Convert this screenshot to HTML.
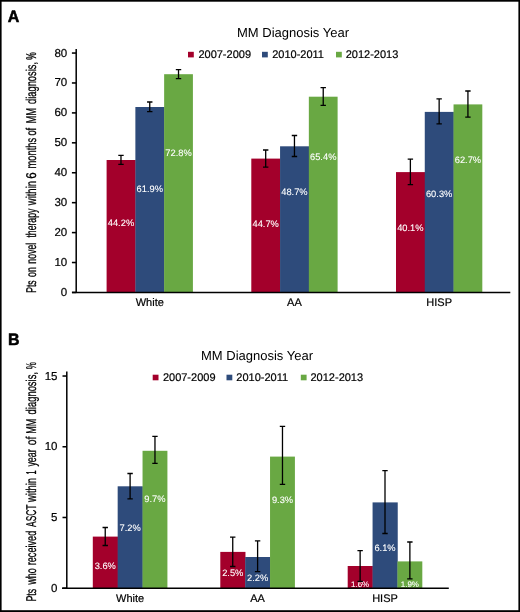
<!DOCTYPE html>
<html><head><meta charset="utf-8"><style>
html,body{margin:0;padding:0;background:#fff;}
svg{display:block;will-change:transform;text-rendering:geometricPrecision;}
text{font-family:"Liberation Sans", sans-serif;fill:#000;stroke:#000;stroke-width:0.2px;}
</style></head><body>
<svg width="520" height="612" viewBox="0 0 520 612">
<rect width="520" height="612" fill="#fff"/>
<rect x="106.60" y="160.00" width="29.07" height="132.50" fill="#a3002b"/>
<rect x="135.37" y="107.00" width="29.07" height="185.50" fill="#2e4b7b"/>
<rect x="164.14" y="74.20" width="28.77" height="218.30" fill="#69a843"/>
<rect x="251.30" y="158.60" width="29.07" height="133.90" fill="#a3002b"/>
<rect x="280.07" y="146.30" width="29.07" height="146.20" fill="#2e4b7b"/>
<rect x="308.84" y="96.70" width="28.77" height="195.80" fill="#69a843"/>
<rect x="396.00" y="172.10" width="29.07" height="120.40" fill="#a3002b"/>
<rect x="424.77" y="111.90" width="29.07" height="180.60" fill="#2e4b7b"/>
<rect x="453.54" y="104.40" width="28.77" height="188.10" fill="#69a843"/>
<text x="120.98" y="225.80" font-size="9.3" style="fill:#fff;stroke:#fff;stroke-width:0.1px" text-anchor="middle">44.2%</text>
<text x="149.75" y="191.80" font-size="9.3" style="fill:#fff;stroke:#fff;stroke-width:0.1px" text-anchor="middle">61.9%</text>
<text x="178.52" y="156.10" font-size="9.3" style="fill:#fff;stroke:#fff;stroke-width:0.1px" text-anchor="middle">72.8%</text>
<text x="265.69" y="227.10" font-size="9.3" style="fill:#fff;stroke:#fff;stroke-width:0.1px" text-anchor="middle">44.7%</text>
<text x="294.46" y="195.00" font-size="9.3" style="fill:#fff;stroke:#fff;stroke-width:0.1px" text-anchor="middle">48.7%</text>
<text x="323.23" y="159.80" font-size="9.3" style="fill:#fff;stroke:#fff;stroke-width:0.1px" text-anchor="middle">65.4%</text>
<text x="410.38" y="230.90" font-size="9.3" style="fill:#fff;stroke:#fff;stroke-width:0.1px" text-anchor="middle">40.1%</text>
<text x="439.15" y="197.10" font-size="9.3" style="fill:#fff;stroke:#fff;stroke-width:0.1px" text-anchor="middle">60.3%</text>
<text x="467.93" y="163.40" font-size="9.3" style="fill:#fff;stroke:#fff;stroke-width:0.1px" text-anchor="middle">62.7%</text>
<path d="M120.98 155.40V164.40M118.28 155.40H123.69M118.28 164.40H123.69" stroke="#000" stroke-width="1.3" fill="none"/>
<path d="M149.75 102.00V111.60M147.06 102.00H152.45M147.06 111.60H152.45" stroke="#000" stroke-width="1.3" fill="none"/>
<path d="M178.52 69.60V78.70M175.82 69.60H181.22M175.82 78.70H181.22" stroke="#000" stroke-width="1.3" fill="none"/>
<path d="M265.69 150.00V167.10M262.99 150.00H268.38M262.99 167.10H268.38" stroke="#000" stroke-width="1.3" fill="none"/>
<path d="M294.46 135.50V156.50M291.76 135.50H297.16M291.76 156.50H297.16" stroke="#000" stroke-width="1.3" fill="none"/>
<path d="M323.23 87.70V105.40M320.53 87.70H325.93M320.53 105.40H325.93" stroke="#000" stroke-width="1.3" fill="none"/>
<path d="M410.38 159.20V184.60M407.69 159.20H413.08M407.69 184.60H413.08" stroke="#000" stroke-width="1.3" fill="none"/>
<path d="M439.15 98.80V123.90M436.45 98.80H441.85M436.45 123.90H441.85" stroke="#000" stroke-width="1.3" fill="none"/>
<path d="M467.93 91.00V117.10M465.23 91.00H470.62M465.23 117.10H470.62" stroke="#000" stroke-width="1.3" fill="none"/>
<path d="M76.2 49.0V292.5M72.0 292.5H510.3" stroke="#000" stroke-width="1.5" fill="none"/>
<path d="M71.90 292.45H76.2" stroke="#000" stroke-width="1.55"/>
<text x="67.2" y="295.95" font-size="11.5" text-anchor="end">0</text>
<path d="M71.90 262.52H76.2" stroke="#000" stroke-width="1.55"/>
<text x="67.2" y="266.02" font-size="11.5" text-anchor="end">10</text>
<path d="M71.90 232.60H76.2" stroke="#000" stroke-width="1.55"/>
<text x="67.2" y="236.10" font-size="11.5" text-anchor="end">20</text>
<path d="M71.90 202.67H76.2" stroke="#000" stroke-width="1.55"/>
<text x="67.2" y="206.17" font-size="11.5" text-anchor="end">30</text>
<path d="M71.90 172.75H76.2" stroke="#000" stroke-width="1.55"/>
<text x="67.2" y="176.25" font-size="11.5" text-anchor="end">40</text>
<path d="M71.90 142.82H76.2" stroke="#000" stroke-width="1.55"/>
<text x="67.2" y="146.32" font-size="11.5" text-anchor="end">50</text>
<path d="M71.90 112.90H76.2" stroke="#000" stroke-width="1.55"/>
<text x="67.2" y="116.40" font-size="11.5" text-anchor="end">60</text>
<path d="M71.90 82.97H76.2" stroke="#000" stroke-width="1.55"/>
<text x="67.2" y="86.47" font-size="11.5" text-anchor="end">70</text>
<path d="M71.90 53.05H76.2" stroke="#000" stroke-width="1.55"/>
<text x="67.2" y="56.55" font-size="11.5" text-anchor="end">80</text>
<text x="149.75" y="305.8" font-size="11" text-anchor="middle">White</text>
<text x="294.46" y="305.8" font-size="11" text-anchor="middle">AA</text>
<text x="439.15" y="305.8" font-size="11" text-anchor="middle">HISP</text>
<text x="293.0" y="37.0" font-size="13" text-anchor="middle" style="stroke-width:0">MM Diagnosis Year</text>
<rect x="188.0" y="51.8" width="5.8" height="5.6" fill="#a3002b"/>
<text x="198.39999999999998" y="58.2" font-size="11">2007-2009</text>
<rect x="262.0" y="51.8" width="5.8" height="5.6" fill="#2e4b7b"/>
<text x="272.2" y="58.2" font-size="11">2010-2011</text>
<rect x="336.0" y="51.8" width="5.8" height="5.6" fill="#69a843"/>
<text x="345.7" y="58.2" font-size="11">2012-2013</text>
<text transform="translate(35.7 292.80) rotate(-90)" font-size="14.2" style="stroke-width:0.3px;fill:#000;stroke:#000" textLength="12.50" lengthAdjust="spacingAndGlyphs">Pts</text>
<text transform="translate(35.7 277.00) rotate(-90)" font-size="14.2" style="stroke-width:0.3px;fill:#000;stroke:#000" textLength="9.80" lengthAdjust="spacingAndGlyphs">on</text>
<text transform="translate(35.7 263.70) rotate(-90)" font-size="14.2" style="stroke-width:0.3px;fill:#000;stroke:#000" textLength="21.00" lengthAdjust="spacingAndGlyphs">novel</text>
<text transform="translate(35.7 237.60) rotate(-90)" font-size="14.2" style="stroke-width:0.3px;fill:#000;stroke:#000" textLength="28.90" lengthAdjust="spacingAndGlyphs">therapy</text>
<text transform="translate(35.7 205.20) rotate(-90)" font-size="14.2" style="stroke-width:0.3px;fill:#000;stroke:#000" textLength="24.20" lengthAdjust="spacingAndGlyphs">within</text>
<text transform="translate(35.7 178.80) rotate(-90)" font-size="14.2" style="stroke-width:0.3px;fill:#000;stroke:#000" textLength="6.40" lengthAdjust="spacingAndGlyphs">6</text>
<text transform="translate(35.7 168.60) rotate(-90)" font-size="14.2" style="stroke-width:0.3px;fill:#000;stroke:#000" textLength="30.80" lengthAdjust="spacingAndGlyphs">months</text>
<text transform="translate(35.7 135.60) rotate(-90)" font-size="14.2" style="stroke-width:0.3px;fill:#000;stroke:#000" textLength="7.80" lengthAdjust="spacingAndGlyphs">of</text>
<text transform="translate(35.7 123.60) rotate(-90)" font-size="14.2" style="stroke-width:0.3px;fill:#000;stroke:#000" textLength="15.80" lengthAdjust="spacingAndGlyphs">MM</text>
<text transform="translate(35.7 103.90) rotate(-90)" font-size="14.2" style="stroke-width:0.3px;fill:#000;stroke:#000" textLength="41.90" lengthAdjust="spacingAndGlyphs">diagnosis,</text>
<text transform="translate(35.7 59.70) rotate(-90)" font-size="14.2" style="stroke-width:0.3px;fill:#000;stroke:#000" textLength="7.50" lengthAdjust="spacingAndGlyphs">%</text>
<text transform="translate(7.8 21.7) scale(1.0 1.035)" font-size="16" font-weight="bold" style="stroke-width:0.5px;text-rendering:geometricPrecision">A</text>
<rect x="92.80" y="536.60" width="25.17" height="51.60" fill="#a3002b"/>
<rect x="117.67" y="486.30" width="25.17" height="101.90" fill="#2e4b7b"/>
<rect x="142.54" y="450.80" width="24.87" height="137.40" fill="#69a843"/>
<rect x="220.30" y="551.90" width="25.17" height="36.30" fill="#a3002b"/>
<rect x="245.17" y="557.00" width="25.17" height="31.20" fill="#2e4b7b"/>
<rect x="270.04" y="456.60" width="24.87" height="131.60" fill="#69a843"/>
<rect x="347.70" y="566.00" width="25.17" height="22.20" fill="#a3002b"/>
<rect x="372.57" y="502.40" width="25.17" height="85.80" fill="#2e4b7b"/>
<rect x="397.44" y="561.40" width="24.87" height="26.80" fill="#69a843"/>
<text x="105.23" y="569.00" font-size="9.3" style="fill:#fff;stroke:#fff;stroke-width:0.1px" text-anchor="middle">3.6%</text>
<text x="130.10" y="530.70" font-size="9.3" style="fill:#fff;stroke:#fff;stroke-width:0.1px" text-anchor="middle">7.2%</text>
<text x="154.97" y="501.80" font-size="9.3" style="fill:#fff;stroke:#fff;stroke-width:0.1px" text-anchor="middle">9.7%</text>
<text x="232.74" y="576.10" font-size="9.3" style="fill:#fff;stroke:#fff;stroke-width:0.1px" text-anchor="middle">2.5%</text>
<text x="257.61" y="580.80" font-size="9.3" style="fill:#fff;stroke:#fff;stroke-width:0.1px" text-anchor="middle">2.2%</text>
<text x="282.48" y="503.00" font-size="9.3" style="fill:#fff;stroke:#fff;stroke-width:0.1px" text-anchor="middle">9.3%</text>
<text x="360.13" y="586.60" font-size="8" style="fill:#fff;stroke:#fff;stroke-width:0.1px" text-anchor="middle">1.6%</text>
<text x="385.00" y="551.30" font-size="9.3" style="fill:#fff;stroke:#fff;stroke-width:0.1px" text-anchor="middle">6.1%</text>
<text x="409.88" y="586.70" font-size="8" style="fill:#fff;stroke:#fff;stroke-width:0.1px" text-anchor="middle">1.9%</text>
<path d="M105.23 527.50V545.50M102.53 527.50H107.94M102.53 545.50H107.94" stroke="#000" stroke-width="1.3" fill="none"/>
<path d="M130.10 473.50V498.80M127.40 473.50H132.80M127.40 498.80H132.80" stroke="#000" stroke-width="1.3" fill="none"/>
<path d="M154.97 436.30V463.30M152.28 436.30H157.67M152.28 463.30H157.67" stroke="#000" stroke-width="1.3" fill="none"/>
<path d="M232.74 537.10V566.50M230.04 537.10H235.44M230.04 566.50H235.44" stroke="#000" stroke-width="1.3" fill="none"/>
<path d="M257.61 540.80V571.70M254.91 540.80H260.31M254.91 571.70H260.31" stroke="#000" stroke-width="1.3" fill="none"/>
<path d="M282.48 426.30V484.30M279.78 426.30H285.18M279.78 484.30H285.18" stroke="#000" stroke-width="1.3" fill="none"/>
<path d="M360.13 550.60V581.30M357.44 550.60H362.83M357.44 581.30H362.83" stroke="#000" stroke-width="1.3" fill="none"/>
<path d="M385.00 470.70V533.50M382.31 470.70H387.70M382.31 533.50H387.70" stroke="#000" stroke-width="1.3" fill="none"/>
<path d="M409.88 542.00V578.80M407.18 542.00H412.57M407.18 578.80H412.57" stroke="#000" stroke-width="1.3" fill="none"/>
<path d="M66.8 371.5V588.2M62.0 588.2H448.8" stroke="#000" stroke-width="1.5" fill="none"/>
<path d="M62.50 588.20H66.8" stroke="#000" stroke-width="1.55"/>
<text x="57.5" y="591.70" font-size="11.5" text-anchor="end">0</text>
<path d="M62.50 517.48H66.8" stroke="#000" stroke-width="1.55"/>
<text x="57.5" y="520.98" font-size="11.5" text-anchor="end">5</text>
<path d="M62.50 446.75H66.8" stroke="#000" stroke-width="1.55"/>
<text x="57.5" y="450.25" font-size="11.5" text-anchor="end">10</text>
<path d="M62.50 376.03H66.8" stroke="#000" stroke-width="1.55"/>
<text x="57.5" y="379.53" font-size="11.5" text-anchor="end">15</text>
<text x="130.10" y="602.3" font-size="11" text-anchor="middle">White</text>
<text x="257.61" y="602.3" font-size="11" text-anchor="middle">AA</text>
<text x="385.00" y="602.3" font-size="11" text-anchor="middle">HISP</text>
<text x="257.0" y="360.2" font-size="13" text-anchor="middle" style="stroke-width:0">MM Diagnosis Year</text>
<rect x="152.7" y="374.7" width="5.8" height="5.6" fill="#a3002b"/>
<text x="162.9" y="381.0" font-size="11">2007-2009</text>
<rect x="226.5" y="374.7" width="5.8" height="5.6" fill="#2e4b7b"/>
<text x="236.29999999999998" y="381.0" font-size="11">2010-2011</text>
<rect x="300.8" y="374.7" width="5.8" height="5.6" fill="#69a843"/>
<text x="310.5" y="381.0" font-size="11">2012-2013</text>
<text transform="translate(35.8 601.60) rotate(-90)" font-size="14.2" style="stroke-width:0.3px;fill:#000;stroke:#000" textLength="12.80" lengthAdjust="spacingAndGlyphs">Pts</text>
<text transform="translate(35.8 584.60) rotate(-90)" font-size="14.2" style="stroke-width:0.3px;fill:#000;stroke:#000" textLength="16.30" lengthAdjust="spacingAndGlyphs">who</text>
<text transform="translate(35.8 565.30) rotate(-90)" font-size="14.2" style="stroke-width:0.3px;fill:#000;stroke:#000" textLength="34.60" lengthAdjust="spacingAndGlyphs">received</text>
<text transform="translate(35.8 526.90) rotate(-90)" font-size="14.2" style="stroke-width:0.3px;fill:#000;stroke:#000" textLength="22.20" lengthAdjust="spacingAndGlyphs">ASCT</text>
<text transform="translate(35.8 501.90) rotate(-90)" font-size="14.2" style="stroke-width:0.3px;fill:#000;stroke:#000" textLength="23.90" lengthAdjust="spacingAndGlyphs">within</text>
<text transform="translate(35.8 474.40) rotate(-90)" font-size="14.2" style="stroke-width:0.3px;fill:#000;stroke:#000" textLength="4.00" lengthAdjust="spacingAndGlyphs">1</text>
<text transform="translate(35.8 466.60) rotate(-90)" font-size="14.2" style="stroke-width:0.3px;fill:#000;stroke:#000" textLength="17.40" lengthAdjust="spacingAndGlyphs">year</text>
<text transform="translate(35.8 445.30) rotate(-90)" font-size="14.2" style="stroke-width:0.3px;fill:#000;stroke:#000" textLength="8.70" lengthAdjust="spacingAndGlyphs">of</text>
<text transform="translate(35.8 433.70) rotate(-90)" font-size="14.2" style="stroke-width:0.3px;fill:#000;stroke:#000" textLength="15.10" lengthAdjust="spacingAndGlyphs">MM</text>
<text transform="translate(35.8 414.40) rotate(-90)" font-size="14.2" style="stroke-width:0.3px;fill:#000;stroke:#000" textLength="42.40" lengthAdjust="spacingAndGlyphs">diagnosis,</text>
<text transform="translate(35.8 369.20) rotate(-90)" font-size="14.2" style="stroke-width:0.3px;fill:#000;stroke:#000" textLength="7.00" lengthAdjust="spacingAndGlyphs">%</text>
<text transform="translate(8.0 344.7) scale(1.0 1.035)" font-size="16" font-weight="bold" style="stroke-width:0.5px;text-rendering:geometricPrecision">B</text>
<rect x="0" y="0" width="520" height="1.7" fill="#000"/><rect x="0" y="0" width="1.6" height="612" fill="#000"/>
<rect x="518.4" y="0" width="1.6" height="612" fill="#000"/><rect x="0" y="610.2" width="520" height="1.8" fill="#000"/>
</svg>
</body></html>
